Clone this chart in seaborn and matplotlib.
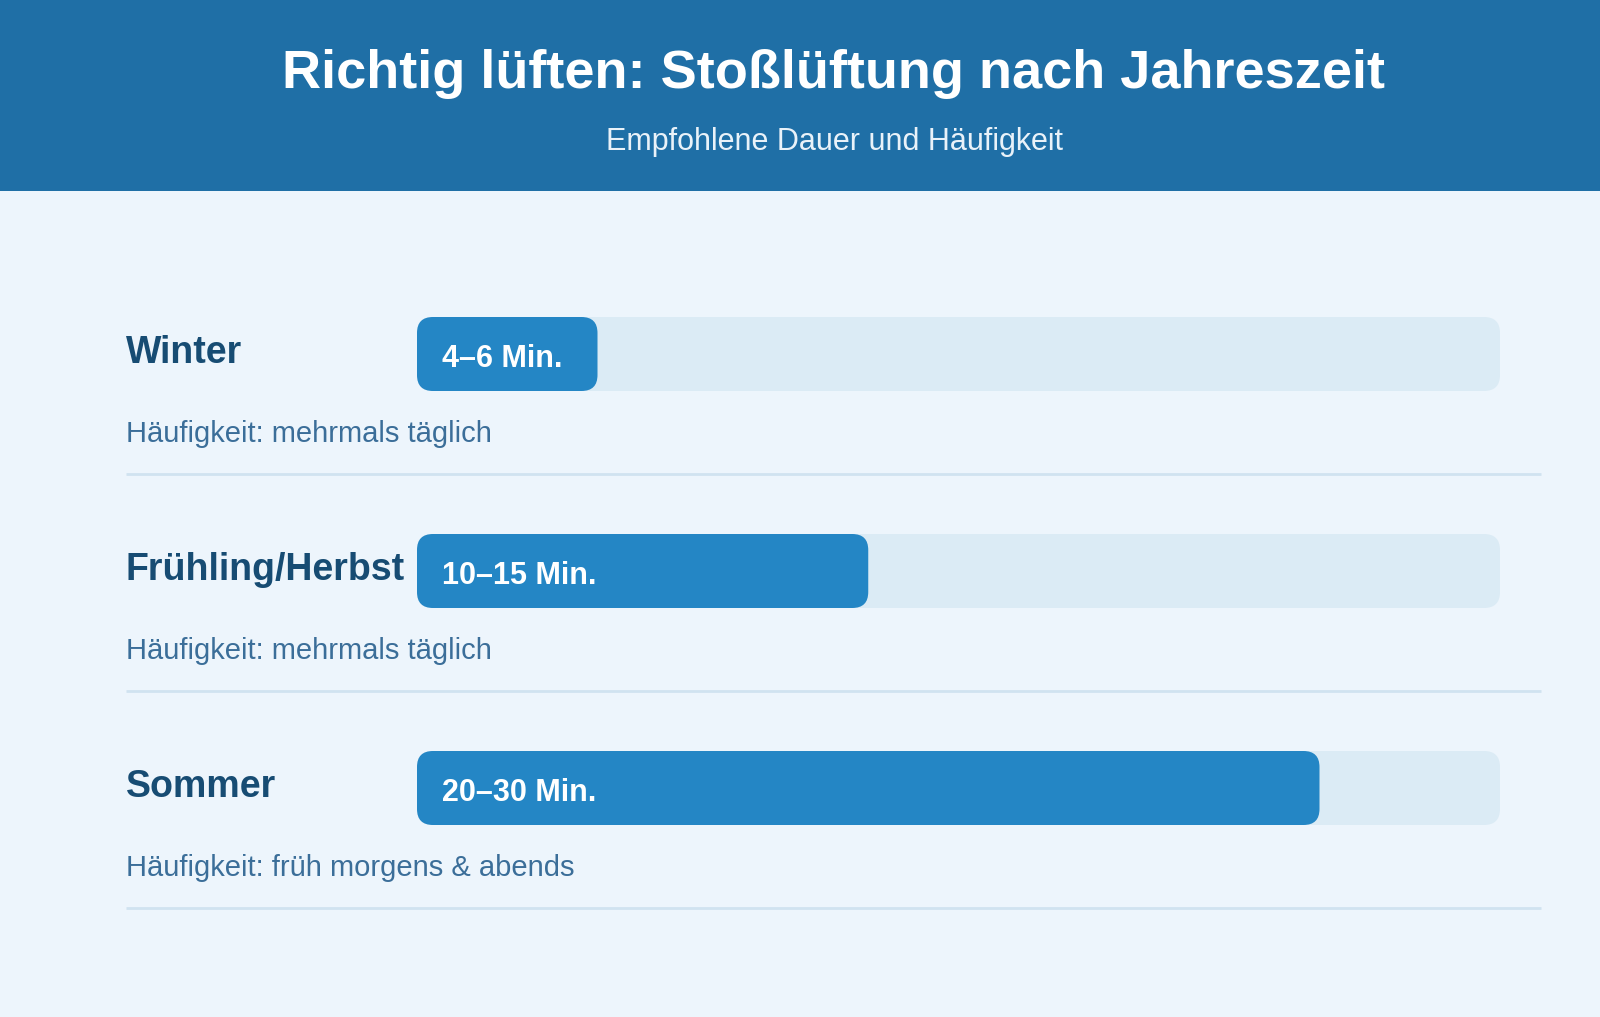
import matplotlib
matplotlib.use("Agg")
import matplotlib.pyplot as plt
from matplotlib.patches import FancyBboxPatch, Rectangle
import seaborn as sns
import pandas as pd

# ---- data ----
seasons = ["Winter", "Frühling/Herbst", "Sommer"]
duration_max = [6, 15, 30]
duration_labels = ["4–6 Min.", "10–15 Min.", "20–30 Min."]
frequency = ["Häufigkeit: mehrmals täglich",
             "Häufigkeit: mehrmals täglich",
             "Häufigkeit: früh morgens & abends"]
scale_max = 36
track_values = [scale_max] * len(seasons)

title = "Richtig lüften: Stoßlüftung nach Jahreszeit"
subtitle = "Empfohlene Dauer und Häufigkeit"

# ---- styles ----
BG = "#edf5fc"
HEADER = "#1f6fa6"
TRACK = "#dbebf5"
FILL = "#2486c5"
LABEL = "#174c73"
FREQ = "#3b6e99"
SEP = "#d0e3f0"

sns.set_theme(style="white")
plt.rcParams["font.family"] = ["Liberation Sans", "DejaVu Sans"]

W, H = 1600, 1017
fig = plt.figure(figsize=(W / 100, H / 100), dpi=100, facecolor=BG)

# header band
fig.patches.append(Rectangle((0, 1 - 191 / H), 1, 191 / H, transform=fig.transFigure,
                             facecolor=HEADER, edgecolor="none", zorder=0))
fig.text(834 / W, 1 - 74 / H, title, ha="center", va="center", color="white",
         fontsize=39, fontweight="bold")
fig.text(834 / W, 1 - 142 / H, subtitle, ha="center", va="center", color="#e9f2f9",
         fontsize=22)

# bar axes: x from px 417 to 1500; rows centered at 354, 571, 788 (spacing 217)
x0, x1 = 417, 1500
row_h = 217
top = 354 - row_h / 2
ax = fig.add_axes([x0 / W, 1 - (top + 3 * row_h) / H, (x1 - x0) / W, 3 * row_h / H])
ax.set_facecolor("none")

df = pd.DataFrame({"season": seasons, "track": track_values, "dur": duration_max})
bar_w = 74 / row_h
sns.barplot(data=df, x="track", y="season", orient="h", color=TRACK, width=bar_w,
            saturation=1, ax=ax)
sns.barplot(data=df, x="dur", y="season", orient="h", color=FILL, width=bar_w,
            saturation=1, ax=ax)
ax.set_xlim(0, scale_max)
ax.set_ylim(2.5, -0.5)
ax.axis("off")

px_x = (x1 - x0) / scale_max
px_y = row_h
aspect = px_x / px_y
r = 16 / px_x
for p in list(ax.patches):
    x, y, w, h = p.get_x(), p.get_y(), p.get_width(), p.get_height()
    fc = p.get_facecolor()
    p.remove()
    ax.add_patch(FancyBboxPatch((x, y), w, h,
                                boxstyle=f"round,pad=0,rounding_size={r}",
                                mutation_aspect=aspect, facecolor=fc,
                                edgecolor="none", zorder=2))

ytr = ax.get_yaxis_transform()
lab_x = (125.5 - x0) / (x1 - x0)
line_end = (1541 - x0) / (x1 - x0)
for i, s in enumerate(seasons):
    ax.text(lab_x, i - 1 / row_h, s, transform=ytr, ha="left", va="center",
            fontsize=27, fontweight="bold", color=LABEL, clip_on=False)
    ax.text(25 / px_x, i + 5 / row_h, duration_labels[i], ha="left", va="center",
            fontsize=22, fontweight="bold", color="white", zorder=3)
    ax.text(lab_x, i + 80 / row_h, frequency[i], transform=ytr, ha="left",
            va="center", fontsize=21, color=FREQ, clip_on=False)
    ax.plot([lab_x, line_end], [i + 120 / row_h] * 2, transform=ytr,
            color=SEP, lw=2, clip_on=False, solid_capstyle="butt")

fig.savefig("out.png", dpi=100, facecolor=BG)
